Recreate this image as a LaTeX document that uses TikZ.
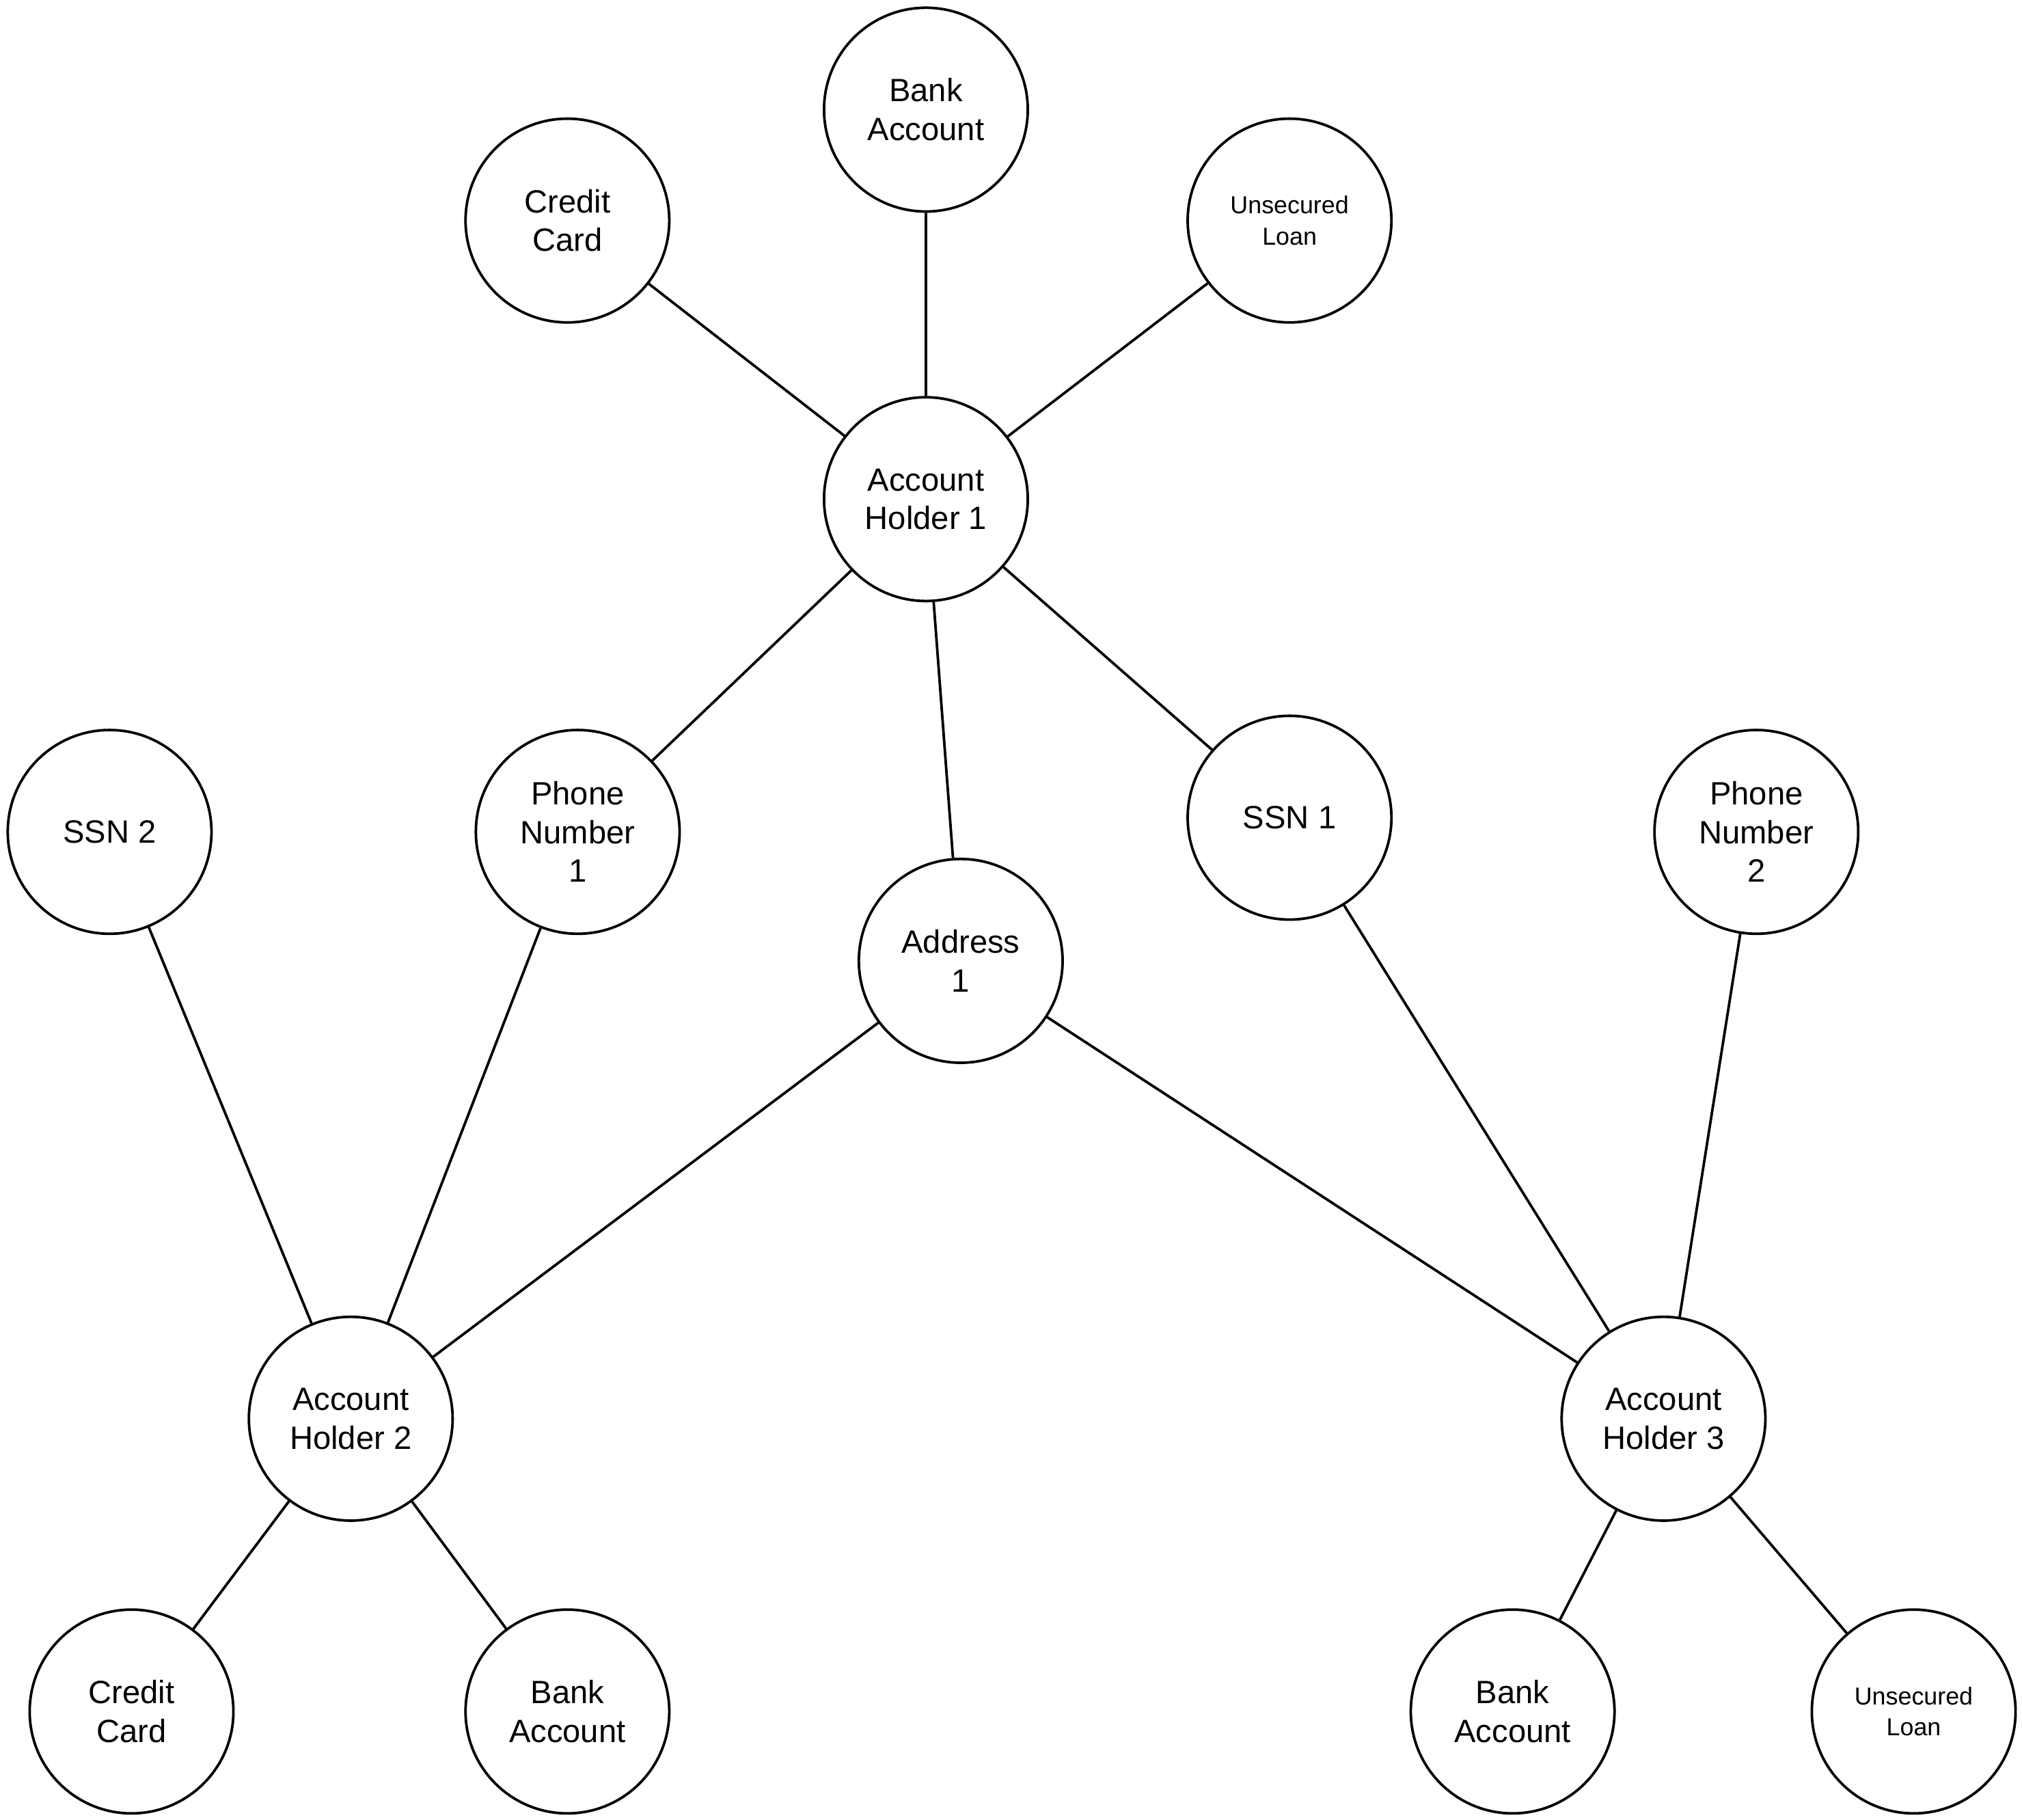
\documentclass[tikz,border=0pt]{standalone}
\usepackage{fontspec}
\setmainfont{Liberation Sans}
\begin{document}
\begin{tikzpicture}[x=1pt,y=-1pt,
  ent/.style={circle,draw,line width=2pt,minimum size=158pt,inner sep=0pt,align=center,font=\fontsize{25}{30}\selectfont},
  sm/.style={font=\fontsize{19}{24}\selectfont},
  every path/.style={line width=2pt}]
\useasboundingbox (0,0) rectangle (1568,1411);
\node[ent] (ba1) at (718,85) {Bank\\Account};
\node[ent] (cc1) at (440,171) {Credit\\Card};
\node[ent,sm] (ul1) at (1000,171) {Unsecured\\Loan};
\node[ent] (ah1) at (718,387) {Account\\Holder 1};
\node[ent] (ssn2) at (85,645) {SSN 2};
\node[ent] (ph1) at (448,645) {Phone\\Number\\1};
\node[ent] (ad1) at (745,745) {Address\\1};
\node[ent] (ssn1) at (1000,634) {SSN 1};
\node[ent] (ph2) at (1362,645) {Phone\\Number\\2};
\node[ent] (ah2) at (272,1100) {Account\\Holder 2};
\node[ent] (ah3) at (1290,1100) {Account\\Holder 3};
\node[ent] (cc2) at (102,1327) {Credit\\Card};
\node[ent] (ba2) at (440,1327) {Bank\\Account};
\node[ent] (ba3) at (1173,1327) {Bank\\Account};
\node[ent,sm] (ul3) at (1484,1327) {Unsecured\\Loan};
\draw (ah1)--(ba1) (ah1)--(cc1) (ah1)--(ul1) (ah1)--(ph1) (ah1)--(ad1) (ah1)--(ssn1);
\draw (ah2)--(ssn2) (ah2)--(ph1) (ah2)--(ad1) (ah2)--(cc2) (ah2)--(ba2);
\draw (ah3)--(ad1) (ah3)--(ssn1) (ah3)--(ph2) (ah3)--(ba3) (ah3)--(ul3);
\end{tikzpicture}
\end{document}
